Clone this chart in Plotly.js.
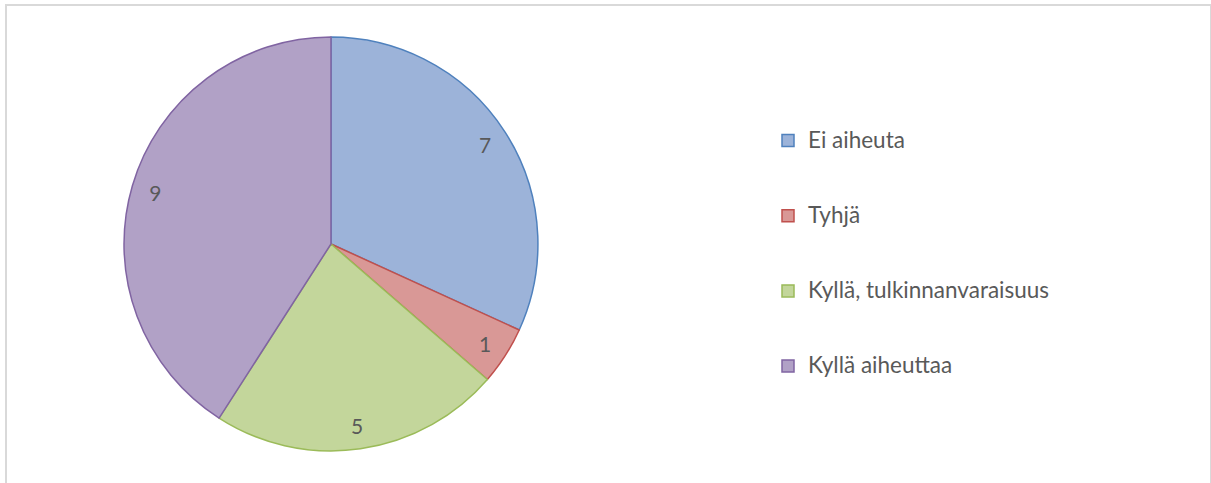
<!DOCTYPE html>
<html>
<head>
<meta charset="utf-8">
<script src="https://cdn.plot.ly/plotly-3.0.1.min.js"></script>
<style>
  html, body { margin:0; padding:0; background:#fff; overflow:hidden; }
  #chart { width:1211px; height:483px; }
  #frame { position:absolute; left:5px; top:4px; width:1203px; height:600px;
           border-top:2px solid #d9d9d9; border-left:2px solid #d9d9d9; border-right:2px solid #d9d9d9;
           pointer-events:none; }
</style>
</head>
<body>
<div id="chart"></div>
<div id="frame"></div>
<script>
const categories = ["Ei aiheuta", "Tyhjä", "Kyllä, tulkinnanvaraisuus", "Kyllä aiheuttaa"];
const values = [7, 1, 5, 9];
const fillColors = ["#9CB3D9", "#D99896", "#C3D69B", "#B1A1C6"];
const lineColors = ["#4F81BD", "#C0504D", "#9BBB59", "#8064A2"];

const legendLabels = categories.map(c => "&nbsp;<br><span style=\"font-size:22.5px\">" + c + "</span><br>&nbsp;");
const dom = { x: [0.1024, 0.4442], y: [0.0663, 0.9234] };

const basePie = {
  type: "pie",
  labels: legendLabels,
  values: values,
  sort: false,
  direction: "clockwise",
  rotation: 0,
  domain: dom,
  marker: { colors: fillColors, line: { color: lineColors, width: 1.5 } },
  textinfo: "none",
  hoverinfo: "skip",
  showlegend: true
};

const labelPie = {
  type: "pie",
  labels: categories.map(c => c + " "),
  values: values,
  sort: false,
  direction: "clockwise",
  rotation: 0,
  hole: 0.77,
  domain: dom,
  marker: { colors: values.map(() => "rgba(0,0,0,0)"), line: { width: 0 } },
  textinfo: "value",
  textposition: "inside",
  insidetextorientation: "horizontal",
  insidetextfont: { family: "Lato, 'Open Sans', sans-serif", size: 21, color: "#595959" },
  hoverinfo: "skip",
  showlegend: false
};

const layout = {
  width: 1211,
  height: 483,
  margin: { l: 0, r: 0, t: 0, b: 0 },
  paper_bgcolor: "#ffffff",
  showlegend: true,
  legend: {
    x: 768 / 1211,
    xanchor: "left",
    y: 1 - 253.5 / 483,
    yanchor: "middle",
    font: { family: "Lato, 'Open Sans', sans-serif", size: 18.5, color: "#595959" },
    bgcolor: "rgba(0,0,0,0)",
    traceorder: "normal"
  }
};

Plotly.newPlot("chart", [basePie, labelPie], layout, { displayModeBar: false, staticPlot: true });
</script>
</body>
</html>
